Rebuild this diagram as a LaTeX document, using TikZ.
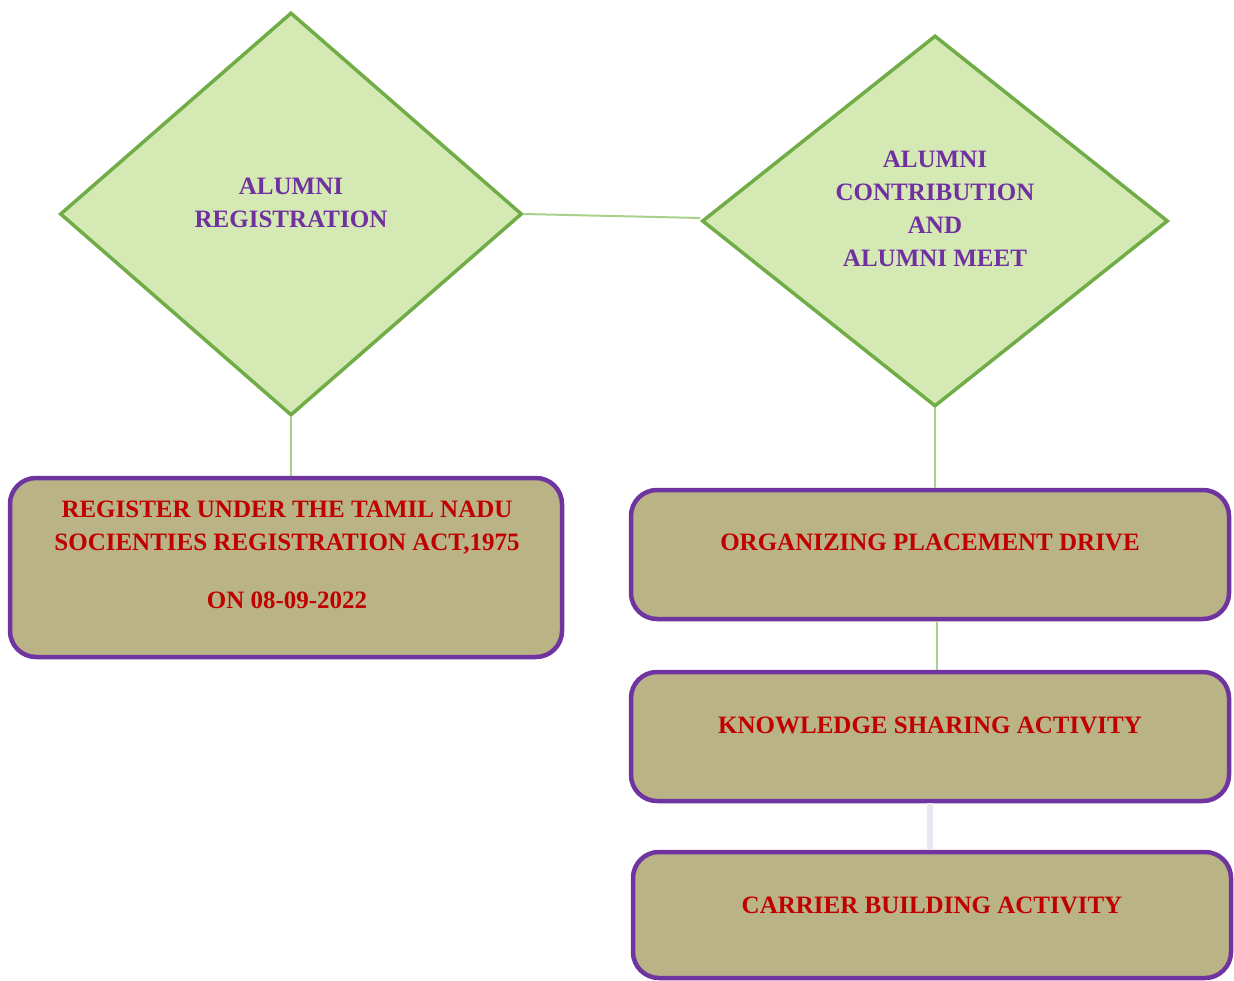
\documentclass[tikz,border=0pt]{standalone}
\usepackage{fontspec}
\setmainfont{Liberation Serif}
\usetikzlibrary{shapes.geometric}
\definecolor{dfill}{RGB}{213,233,180}
\definecolor{dline}{RGB}{112,173,71}
\definecolor{bfill}{RGB}{185,179,134}
\definecolor{bline}{RGB}{112,52,160}
\definecolor{tred}{RGB}{192,0,0}
\definecolor{tpurple}{RGB}{112,48,160}
\definecolor{link}{RGB}{169,209,142}
\definecolor{palelink}{RGB}{232,232,238}
\tikzset{
  x=1pt, y=-1pt,
  dia/.style={diamond, draw=dline, fill=dfill, line width=3.5pt, inner sep=0pt},
  box/.style={rectangle, rounded corners=26pt, draw=bline, fill=bfill, line width=4.5pt, inner sep=0pt},
  dtext/.style={text=tpurple, font=\fontsize{25}{33}\selectfont\bfseries, align=center, inner sep=0pt},
  btext/.style={text=tred, font=\fontsize{25}{33}\selectfont\bfseries, align=center, inner sep=0pt},
  conn/.style={draw=link, line width=2pt},
}
\begin{document}
\begin{tikzpicture}
\useasboundingbox (0,0) rectangle (1234,981);
\fill[white] (0,0) rectangle (1234,981);

% decision diamonds
\node[dia, minimum width=462pt, minimum height=403pt] (d1) at (291,214) {};
\node[dia, minimum width=466pt, minimum height=371pt] (d2) at (935,221) {};

% activity boxes
\node[box, minimum width=552pt, minimum height=179pt] (b1) at (286,567.5) {};
\node[box, minimum width=598pt, minimum height=129pt] (b2) at (930,554.5) {};
\node[box, minimum width=598pt, minimum height=129pt] (b3) at (930,736.5) {};
\node[box, minimum width=598pt, minimum height=126pt] (b4) at (932,915) {};

% links between the shapes
\draw[conn] (d1.east) -- ([yshift=3pt]d2.west);
\draw[conn] (d1.south) -- (d1.south |- b1.north);
\draw[conn] (d2.south) -- (d2.south |- b2.north);
\draw[conn] (937,0 |- b2.south) -- (937,0 |- b3.north);
\draw[draw=palelink, line width=6pt] (930,0 |- b3.south) -- (930,0 |- b4.north);

% labels
\node[dtext] (t1) at (291,203) {ALUMNI\\REGISTRATION};
\node[dtext] (t2) at (935,209) {ALUMNI\\CONTRIBUTION\\AND\\ALUMNI MEET};
\node[btext] (t3) at (287,528) {REGISTER UNDER THE TAMIL NADU\\SOCIENTIES REGISTRATION ACT,1975};
\node[btext] (t4) at (287,600) {ON 08-09-2022};
\node[btext] (t5) at (930,542) {ORGANIZING PLACEMENT DRIVE};
\node[btext] (t6) at (930,725) {KNOWLEDGE SHARING ACTIVITY};
\node[btext] (t7) at (932,905) {CARRIER BUILDING ACTIVITY};
\end{tikzpicture}
\end{document}
